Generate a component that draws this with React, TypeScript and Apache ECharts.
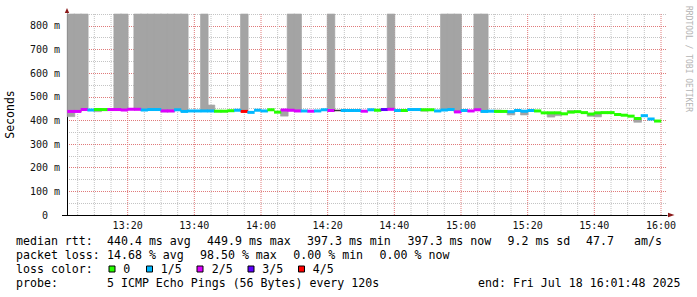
import React, { useEffect, useRef } from 'react';
import * as echarts from 'echarts';

// ---- time frame ----
const AXIS_START = '13:01:48';
const AXIS_END = '16:01:48';
const FIRST_STEP = '13:02';
const STEP_MINUTES = 2;

// ---- median rtt per 2-minute step (ms) ----
const MEDIAN_MS = [
  438, 438, 446, 444, 446, 446, 446, 446, 444, 447,
  447, 444, 446, 446, 440, 440, 445, 438, 440, 440,
  440, 440, 439, 439, 441, 443, 438, 434, 443, 440,
  445, 435, 444, 443, 440, 440, 439, 440, 445, 442,
  442, 442, 442, 442, 439, 445, 443, 446, 447, 442,
  442, 446, 446, 445, 445, 440, 444, 446, 436, 442,
  440, 445, 438, 439, 438, 438, 437, 442, 439, 442,
  440, 432, 432, 432, 428, 435, 437, 433, 427, 432,
  433, 433, 425, 422, 418, 408, 420, 406, 397.3,
];

// ---- packets lost per step (0..4 of 5; 5 = unclassified dark) ----
const LOSS_LEVEL = [
  2, 2, 2, 1, 0, 0, 2, 2, 2, 2,
  2, 1, 1, 1, 2, 2, 1, 1, 1, 1,
  1, 1, 0, 0, 0, 1, 4, 1, 1, 1,
  0, 0, 2, 2, 2, 1, 2, 1, 1, 2,
  5, 1, 1, 1, 2, 1, 0, 3, 2, 1,
  0, 1, 1, 0, 0, 1, 1, 1, 2, 1,
  2, 2, 1, 1, 0, 0, 1, 1, 1, 1,
  0, 0, 0, 0, 0, 0, 0, 0, 0, 0,
  0, 0, 0, 0, 0, 0, 1, 1, 0,
];

// ---- smoke (ping spread) for the steps where it shows ----
const SMOKE_STEP = [0, 1, 2, 4, 5, 7, 8, 10, 11, 12, 13, 14, 15, 16, 17, 20, 21, 22, 23, 26, 32, 33, 34, 39, 48, 53, 56, 57, 58, 61, 62, 64, 66, 68, 72, 73, 75, 78, 79, 85];
const SMOKE_LO = [416, 436, 444, 437, 441, 444, 442, 445, 442, 444, 444, 436, 436, 443, 436, 438, 438, 436, 436, 436, 418, 441, 438, 440, 445, 439, 442, 444, 434, 443, 434, 437, 423, 423, 414, 420, 434, 417, 415, 392];
const SMOKE_HI = [850, 850, 850, 447, 447, 850, 850, 850, 850, 850, 850, 850, 850, 850, 850, 850, 465, 441, 441, 850, 446, 850, 850, 850, 850, 447, 850, 850, 850, 850, 850, 444, 439, 441, 434, 434, 442, 429, 434, 410];

// ---- axes ----
const Y_MAX = 850;
const Y_GRID_STEP = 50;
const X_GRID_STEP = 5;
const X_TICK_LABELS = ['13:20', '13:40', '14:00', '14:20', '14:40', '15:00', '15:20', '15:40', '16:00'];

// ---- legend ----
const LOSS_COLORS = ['#26ff00', '#00b8ff', '#dd00ff', '#5e00ff', '#ff0000', '#3a3a3a'];
const LOSS_NAMES = ['0', '1/5', '2/5', '3/5', '4/5'];
const RTT_STATS = ['440.4 ms avg', '449.9 ms max', '397.3 ms min', '397.3 ms now', '9.2 ms sd', '47.7', 'am/s'];
const LOSS_STATS = ['14.68 % avg', '98.50 % max', '0.00 % min', '0.00 % now'];
const PROBE_TEXT = '5 ICMP Echo Pings (56 Bytes) every 120s';
const END_TEXT = 'end: Fri Jul 18 16:01:48 2025';
const WATERMARK = 'RRDTOOL / TOBI OETIKER';

const toMin = (s: string) => {
  const p = s.split(':').map(Number);
  return p[0] * 60 + p[1] + (p[2] || 0) / 60;
};
const fmtMin = (v: number) => {
  const t = Math.round(v);
  const h = Math.floor(t / 60);
  const m = t % 60;
  return `${h}:${m < 10 ? '0' : ''}${m}`;
};

const MONO = '"DejaVu Sans Mono", monospace';
const LEGEND_FONT = `11.6px ${MONO}`;

export default function App() {
  const ref = useRef<HTMLDivElement>(null);
  useEffect(() => {
    if (!ref.current) return;
    const chart = echarts.init(ref.current, null, { renderer: 'svg' });
    // x values are minutes elapsed since the left edge of the graph
    const origin = toMin(AXIS_START);
    const span = toMin(AXIS_END) - origin;
    const first = toMin(FIRST_STEP) - origin;

    const medianData = MEDIAN_MS.map((v, i) => [first + i * STEP_MINUTES, first + (i + 1) * STEP_MINUTES, v, LOSS_LEVEL[i]]);
    const smokeData = SMOKE_STEP.map((s, k) => [first + s * STEP_MINUTES, first + (s + 1) * STEP_MINUTES, SMOKE_LO[k], SMOKE_HI[k]]);
    const gridData: number[][] = [];
    for (let m = Math.ceil(origin / X_GRID_STEP) * X_GRID_STEP; m <= origin + span; m += X_GRID_STEP) gridData.push([m - origin, 0, m]);
    const xTickValues = X_TICK_LABELS.map((l) => toMin(l) - origin);

    const g: any[] = [];
    const txt = (text: string, x: number, y: number) => ({
      type: 'text', x, y, silent: true,
      style: { text, font: LEGEND_FONT, fill: '#000', align: 'left', verticalAlign: 'middle', textAlign: 'left', textVerticalAlign: 'middle' },
    });
    g.push(txt('median rtt:', 16, 241));
    const rttX = [107, 207, 307, 407.5, 507.5, 586, 634];
    RTT_STATS.forEach((s, i) => g.push(txt(s, rttX[i], 241)));
    g.push(txt('packet loss:', 16, 255));
    const lossX = [107, 200, 293.3, 379.6];
    LOSS_STATS.forEach((s, i) => g.push(txt(s, lossX[i], 255)));
    g.push(txt('loss color:', 16, 269));
    const boxX = [109, 146.5, 197, 248, 298.5];
    const lblX = [123.3, 160.7, 211.7, 262.3, 312.7];
    LOSS_NAMES.forEach((n, i) => {
      g.push({
        type: 'rect', silent: true,
        shape: { x: boxX[i], y: 266, width: 6, height: 6 },
        style: { fill: LOSS_COLORS[i], stroke: '#000', lineWidth: 1 },
      });
      g.push(txt(n, lblX[i], 269));
    });
    g.push(txt('probe:', 16, 283));
    g.push(txt(PROBE_TEXT, 107, 283));
    g.push(txt(END_TEXT, 478, 283));
    g.push({
      type: 'text', x: 688, y: 59, rotation: -Math.PI / 2, silent: true,
      style: { text: WATERMARK, font: `8px ${MONO}`, fill: '#b4b4b4', align: 'center', verticalAlign: 'middle', textAlign: 'center', textVerticalAlign: 'middle' },
    });
    // axis arrows and the short left stub of the time axis
    g.push({ type: 'polygon', silent: true, shape: { points: [[64.8, 13], [69.2, 13], [67, 8]] }, style: { fill: '#8b1a1a' } });
    g.push({ type: 'polygon', silent: true, shape: { points: [[668, 212.8], [668, 217.2], [674.5, 215]] }, style: { fill: '#8b1a1a' } });
    g.push({ type: 'line', silent: true, shape: { x1: 62, y1: 215.5, x2: 67, y2: 215.5 }, style: { stroke: '#000', lineWidth: 1 } });

    chart.setOption({
      animation: false,
      backgroundColor: '#ffffff',
      grid: { left: 67, right: 30, top: 14, bottom: 82, containLabel: false, outerBoundsMode: 'none' },
      xAxis: {
        type: 'value', min: 0, max: span,
        axisLine: { show: true, lineStyle: { color: '#000', width: 1 } },
        axisTick: { show: false },
        splitLine: { show: false },
        axisLabel: {
          customValues: xTickValues,
          formatter: (v: number) => fmtMin(v + origin),
          fontFamily: MONO, fontSize: 10, color: '#111', margin: 5,
        },
      },
      yAxis: {
        type: 'value', min: 0, max: Y_MAX, interval: Y_GRID_STEP,
        name: 'Seconds', nameLocation: 'middle', nameRotate: 90, nameGap: 51.5,
        nameTextStyle: { fontFamily: MONO, fontSize: 11.5, color: '#000' },
        axisLine: { show: true, lineStyle: { color: '#000', width: 1 } },
        axisTick: { show: false },
        axisLabel: {
          formatter: (v: number) => (v % 100 === 0 ? (v === 0 ? '0\u00a0\u00a0' : `${v} m`) : ''),
          fontFamily: MONO, fontSize: 10, color: '#111', margin: 7,
        },
        splitLine: { show: true, lineStyle: { color: ['#e07a7a', '#c4c4c4'], type: [1, 1], width: 1 } },
      },
      graphic: g,
      series: [
        {
          type: 'custom', name: 'vgrid', silent: true, z: 1,
          data: gridData,
          encode: { x: 0, y: 1 },
          renderItem: (params: any, api: any) => {
            const m = api.value(0);
            const a = api.coord([m, 0]);
            const b = api.coord([m, Y_MAX]);
            const major = Math.round(api.value(2)) % 20 === 0;
            return {
              type: 'line',
              shape: { x1: a[0], y1: a[1], x2: b[0], y2: b[1] },
              style: { stroke: major ? '#e07a7a' : '#c4c4c4', lineWidth: 1, lineDash: [1, 1] },
            };
          },
        },
        {
          type: 'custom', name: 'smoke', silent: true, z: 2,
          data: smokeData,
          encode: { x: [0, 1], y: [2, 3] },
          renderItem: (params: any, api: any) => {
            const a = api.coord([api.value(0), api.value(3)]);
            const b = api.coord([api.value(1), api.value(2)]);
            return {
              type: 'rect',
              shape: { x: a[0] - 0.5, y: a[1], width: b[0] - a[0] + 1, height: b[1] - a[1] },
              style: { fill: '#a4a4a4', stroke: '#a4a4a4', lineWidth: 0.6 },
            };
          },
        },
        {
          type: 'custom', name: 'median', silent: true, z: 3,
          data: medianData,
          encode: { x: [0, 1], y: 2 },
          renderItem: (params: any, api: any) => {
            const loss = api.value(3);
            const a = api.coord([api.value(0), api.value(2)]);
            const b = api.coord([api.value(1), api.value(2)]);
            const h = loss === 5 ? 1.5 : 3;
            return {
              type: 'rect',
              shape: { x: a[0] - 0.3, y: a[1] - h / 2, width: b[0] - a[0] + 0.6, height: h },
              style: { fill: LOSS_COLORS[loss] },
            };
          },
        },
      ],
    });
    return () => chart.dispose();
  }, []);
  return <div ref={ref} style={{ position: 'absolute', left: 0, top: 0, width: 697, height: 297 }} />;
}
